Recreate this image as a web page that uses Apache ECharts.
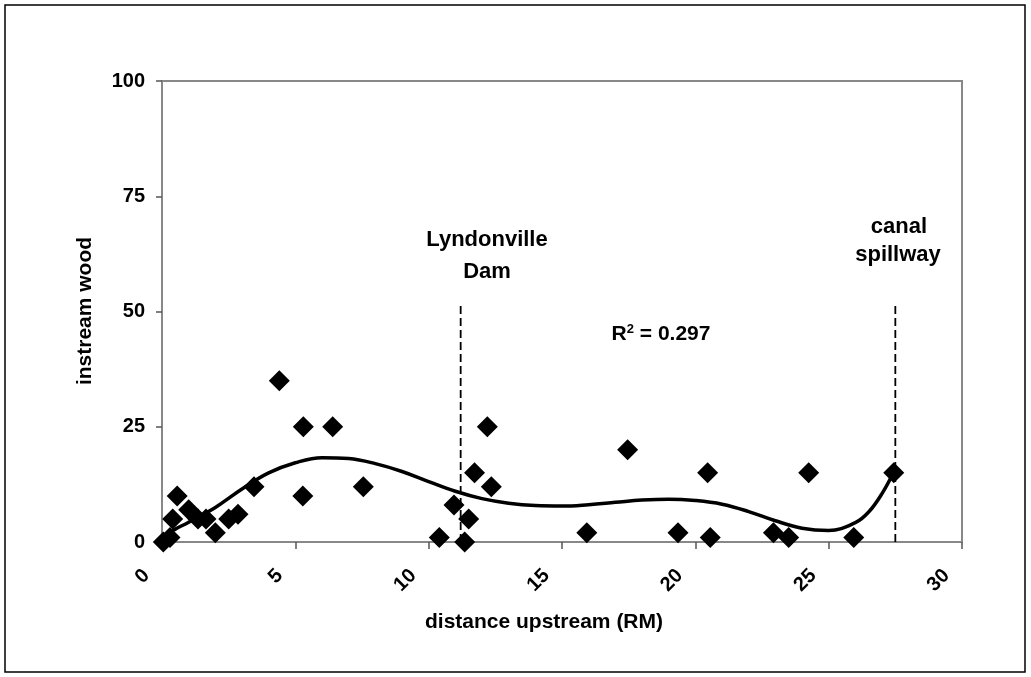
<!DOCTYPE html>
<html>
<head>
<meta charset="utf-8">
<script src="https://cdn.jsdelivr.net/npm/echarts@6/dist/echarts.min.js"></script>
<style>
html,body{margin:0;padding:0;background:#fff;}
#chart{width:1031px;height:677px;}
</style>
</head>
<body>
<div id="chart"></div>
<script>
// observed points: distance upstream (RM) and instream wood
var distances = [0.05, 0.3, 0.4, 0.57, 1.0, 1.35, 1.65, 2.0, 2.5, 2.85, 3.45, 4.4, 5.3, 5.28, 6.4, 7.55, 10.4, 10.95, 11.35, 11.5, 11.72, 12.2, 12.35, 15.93, 17.46, 19.35, 20.46, 20.56, 22.93, 23.5, 24.25, 25.94, 27.44];
var wood      = [0,    1,   5,   10,   7,   5,    5,    2,   5,   6,    12,   35,  25,  10,   25,  12,   1,    8,     0,     5,    15,    25,   12,    2,     20,    2,     15,    1,     2,     1,    15,    1,     15];

// trend curve
var trendX = [0, 0.5, 1, 2, 3, 4, 5, 6, 7, 8, 9, 10, 11, 12, 13, 14, 15, 16, 17, 18, 19, 20, 21, 22, 23, 24, 25, 26, 26.5, 27, 27.45];
var trendY = [1.2, 2.8, 4.3, 7.5, 11.5, 15.0, 17.2, 18.3, 18.1, 17.0, 15.3, 13.1, 11.0, 9.4, 8.4, 7.9, 7.8, 8.1, 8.6, 9.1, 9.3, 9.0, 8.2, 6.6, 4.6, 3.0, 2.5, 4.2, 6.5, 10.5, 15.3];

// reference lines
var markerX = [11.2, 27.5];
var markerTop = 52;

var xTicks = [0, 5, 10, 15, 20, 25, 30];
var yTicks = [0, 25, 50, 75, 100];

var FONT = "'Liberation Sans', Arial, sans-serif";

var scatterData = distances.map(function (d, i) { return [d, wood[i]]; });
var trendData = trendX.map(function (d, i) { return [d, trendY[i]]; });

var series = [
  {
    type: 'line',
    data: trendData,
    smooth: 0.4,
    showSymbol: false,
    symbol: 'none',
    lineStyle: { color: '#000', width: 3.5, opacity: 1 },
    z: 3,
    silent: true
  },
  {
    type: 'scatter',
    data: scatterData,
    symbol: 'diamond',
    symbolSize: 21,
    itemStyle: { color: '#000', opacity: 1 },
    clip: false,
    z: 4
  }
];
markerX.forEach(function (mx) {
  series.push({
    type: 'line',
    data: [[mx, 0], [mx, markerTop]],
    showSymbol: false,
    symbol: 'none',
    lineStyle: { color: '#000', width: 1.8, type: [8, 4] },
    z: 2,
    silent: true
  });
});

var chart = echarts.init(document.getElementById('chart'), null, { renderer: 'canvas' });
chart.setOption({
  animation: false,
  backgroundColor: '#fff',
  grid: {
    left: 162, right: 69, top: 81, bottom: 135,
    containLabel: false,
    outerBoundsMode: 'none',
    show: true,
    borderColor: '#888',
    borderWidth: 2,
    backgroundColor: 'transparent'
  },
  xAxis: {
    type: 'value',
    min: xTicks[0], max: xTicks[xTicks.length - 1], interval: 5,
    axisLine: { show: true, lineStyle: { color: '#888', width: 2 } },
    axisTick: { show: true, length: 7, lineStyle: { color: '#555', width: 1.5 } },
    splitLine: { show: false },
    axisLabel: {
      rotate: 45,
      margin: 15,
      padding: [0, 22, 0, 0],
      color: '#000',
      fontFamily: FONT,
      fontWeight: 'bold',
      fontSize: 20
    }
  },
  yAxis: {
    type: 'value',
    min: yTicks[0], max: yTicks[yTicks.length - 1], interval: 25,
    axisLine: { show: true, lineStyle: { color: '#888', width: 2 } },
    axisTick: { show: true, length: 6, lineStyle: { color: '#555', width: 1.5 } },
    splitLine: { show: false },
    axisLabel: {
      margin: 17,
      color: '#000',
      fontFamily: FONT,
      fontWeight: 'bold',
      fontSize: 20
    }
  },
  graphic: [
    {
      type: 'rect',
      shape: { x: 5, y: 5, width: 1020, height: 667 },
      style: { fill: 'none', stroke: '#000', lineWidth: 1.5 },
      silent: true, z: -10
    },
    {
      type: 'text', x: 85, y: 311, rotation: Math.PI / 2,
      style: { text: 'instream wood', fill: '#000', font: 'bold 21px ' + FONT, textAlign: 'center', textVerticalAlign: 'middle' }
    },
    {
      type: 'text', x: 544, y: 622,
      style: { text: 'distance upstream (RM)', fill: '#000', font: 'bold 21px ' + FONT, textAlign: 'center', textVerticalAlign: 'middle' }
    },
    {
      type: 'text', x: 487, y: 240,
      style: { text: 'Lyndonville', fill: '#000', font: 'bold 22px ' + FONT, textAlign: 'center', textVerticalAlign: 'middle' }
    },
    {
      type: 'text', x: 487, y: 272,
      style: { text: 'Dam', fill: '#000', font: 'bold 22px ' + FONT, textAlign: 'center', textVerticalAlign: 'middle' }
    },
    {
      type: 'text', x: 899, y: 227,
      style: { text: 'canal', fill: '#000', font: 'bold 22px ' + FONT, textAlign: 'center', textVerticalAlign: 'middle' }
    },
    {
      type: 'text', x: 898, y: 255,
      style: { text: 'spillway', fill: '#000', font: 'bold 22px ' + FONT, textAlign: 'center', textVerticalAlign: 'middle' }
    },
    {
      type: 'text', x: 661, y: 334,
      style: {
        text: 'R{sup|2} = 0.297',
        fill: '#000', font: 'bold 21px ' + FONT, textAlign: 'center', textVerticalAlign: 'middle',
        rich: { sup: { fontSize: 13, fontWeight: 'bold', fontFamily: FONT, verticalAlign: 'top', padding: [0, 0, 10, 0], fill: '#000' } }
      }
    }
  ],
  series: series
});
</script>
</body>
</html>
